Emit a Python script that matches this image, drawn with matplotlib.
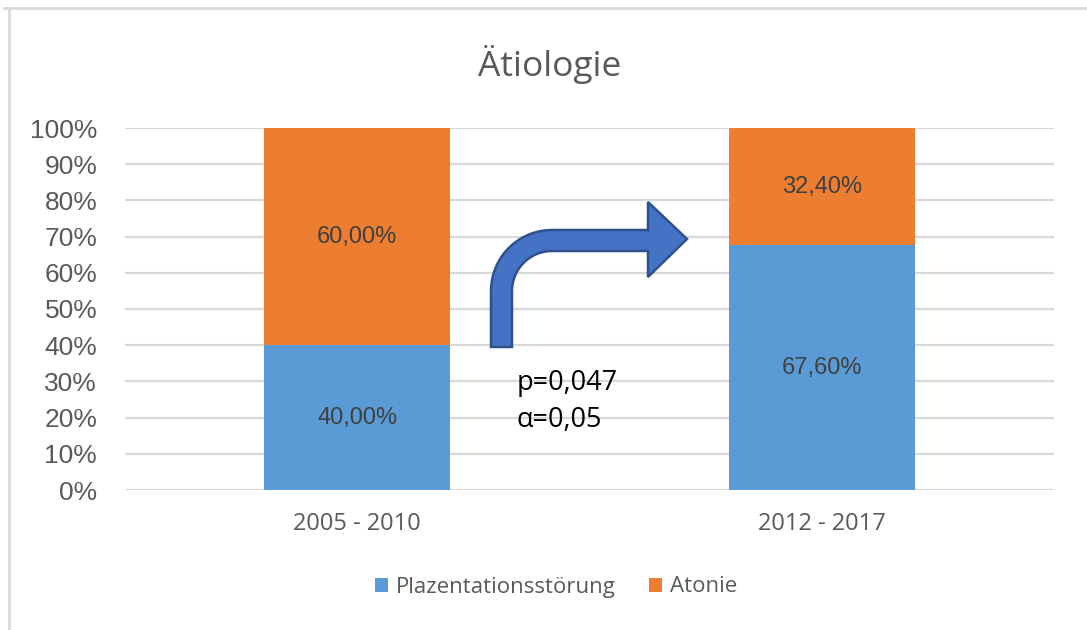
import numpy as np
import matplotlib.pyplot as plt
from matplotlib.path import Path
from matplotlib.patches import PathPatch
from matplotlib.ticker import PercentFormatter

zeitraum = ["2005 - 2010", "2012 - 2017"]
plazentation = [40.0, 67.6]
atonie = [60.0, 32.4]
p_text = ["p=0,047", "α=0,05"]

W, H = 1087, 630
fig = plt.figure(figsize=(W / 100, H / 100), dpi=100)
ax = fig.add_axes([125 / W, 1 - 490 / H, (1054 - 125) / W, (490 - 128) / H])

blue = "#5B9BD5"
orange = "#ED7D31"
grey = "#595959"

x = np.arange(len(zeitraum))
b1 = ax.bar(x, plazentation, 0.4, color=blue, label="Plazentationsstörung", zorder=2)
b2 = ax.bar(x, atonie, 0.4, bottom=plazentation, color=orange, label="Atonie", zorder=2)

for bars in (b1, b2):
    for r in bars:
        h = r.get_height()
        ax.text(r.get_x() + r.get_width() / 2, r.get_y() + h / 2,
                f"{h:.2f}%".replace(".", ","), ha="center", va="center",
                fontsize=17, color="#404040", family="Liberation Sans")

ax.set_xlim(-0.5, 1.5)
ax.set_ylim(0, 100)
ax.set_yticks(np.arange(0, 101, 10))
ax.yaxis.set_major_formatter(PercentFormatter(decimals=0))
ax.set_xticks(x)
ax.set_xticklabels(zeitraum, family="Open Sans", fontsize=17, color=grey)
for t in ax.get_yticklabels():
    t.set_family("Liberation Sans")
    t.set_fontsize(19)
    t.set_color(grey)
ax.tick_params(axis="y", length=0, pad=20)
ax.tick_params(axis="x", length=0, pad=16)
ax.grid(axis="y", color="#D9D9D9", linewidth=1.6, zorder=0)
for s in ax.spines.values():
    s.set_visible(False)

fig.text(550 / W, 1 - 64 / H, "Ätiologie", ha="center", va="center",
         fontsize=25.5, color=grey, family="Open Sans")

# annotation text
for i, t in enumerate(p_text):
    fig.text(517 / W, 1 - (383 + i * 37) / H, t, ha="left", va="center",
             fontsize=19.5, color="black", family="Open Sans")

# bent arrow in image pixel coordinates
cx, cy, ro, ri = 552, 291, 61, 40
ang = np.linspace(np.pi, np.pi / 2, 20)
pts = [(491, 347), (491, cy)]
pts += [(cx + ro * np.cos(a), cy - ro * np.sin(a)) for a in ang]
pts += [(648, cy - ro), (648, 202), (687, 239), (648, 277), (648, cy - ri)]
pts += [(cx + ri * np.cos(a), cy - ri * np.sin(a)) for a in ang[::-1]]
pts += [(512, cy), (512, 347), (491, 347)]
pts = [(px / W, 1 - py / H) for px, py in pts]
arrow = PathPatch(Path(pts, closed=True), facecolor="#4472C4", edgecolor="#2F528F",
                  linewidth=1.8, transform=fig.transFigure, zorder=5)
fig.patches.append(arrow)

leg = fig.legend(handles=[b1, b2], loc="center", bbox_to_anchor=(556 / W, 1 - 587 / H),
                 ncol=2, frameon=False, handlelength=0.6, handleheight=0.6,
                 handletextpad=0.35, columnspacing=1.5,
                 prop={"family": "Open Sans", "size": 16})
for t in leg.get_texts():
    t.set_color(grey)

# chart frame (top and left edges visible in the crop)
fig.lines.append(plt.Line2D([4 / W, 1], [1 - 8 / H, 1 - 8 / H], color="#D9D9D9",
                            linewidth=2, transform=fig.transFigure))
fig.lines.append(plt.Line2D([9 / W, 9 / W], [0, 1 - 8 / H], color="#D9D9D9",
                            linewidth=2, transform=fig.transFigure))

fig.savefig("out.png", dpi=100)
